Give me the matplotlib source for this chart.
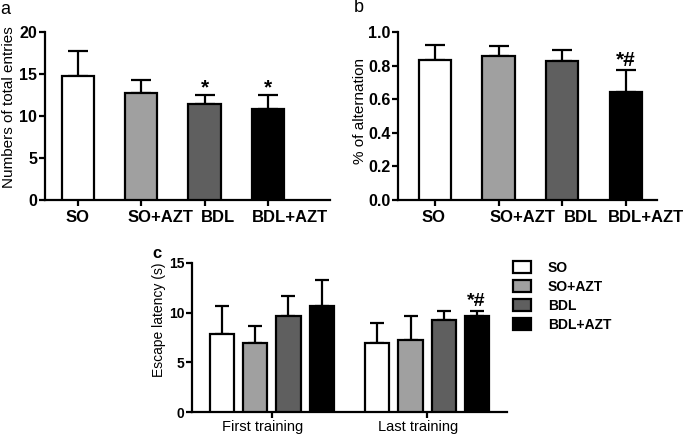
import matplotlib
matplotlib.use("Agg")
import matplotlib.pyplot as plt
import matplotlib.transforms as mtrans
import numpy as np

plt.rcParams['font.family'] = ['Liberation Sans', 'DejaVu Sans']

groups = ["SO", "SO+AZT", "BDL", "BDL+AZT"]
colors = ["#ffffff", "#a0a0a0", "#5f5f5f", "#000000"]

entries_mean = [14.8, 12.7, 11.4, 10.8]
entries_err = [2.9, 1.6, 1.1, 1.7]
entries_marks = ["", "", "*", "*"]

alt_mean = [0.835, 0.855, 0.83, 0.645]
alt_err = [0.09, 0.06, 0.06, 0.13]
alt_marks = ["", "", "", "*#"]

sessions = ["First training", "Last training"]
lat_first = [7.85, 6.95, 9.67, 10.7]
lat_first_err = [2.85, 1.75, 2.0, 2.6]
lat_last = [6.95, 7.25, 9.26, 9.7]
lat_last_err = [2.0, 2.45, 0.9, 0.45]
lat_last_marks = ["", "", "", "*#"]

W, H = 685, 434
fig = plt.figure(figsize=(W / 100, H / 100), dpi=100)


def px_axes(l, r, top, bottom):
    return fig.add_axes([l / W, 1 - bottom / H, (r - l) / W, (bottom - top) / H])


def shift(lab, dx_px):
    lab.set_transform(lab.get_transform() +
                      mtrans.ScaledTranslation(dx_px / 100, 0, fig.dpi_scale_trans))


def style(ax, fs_tick):
    for s in ["top", "right"]:
        ax.spines[s].set_visible(False)
    for s in ["left", "bottom"]:
        ax.spines[s].set_linewidth(1.6)
    ax.tick_params(axis="both", width=1.6, length=4, direction="out",
                   labelsize=fs_tick)
    ax.tick_params(axis="y", pad=1.5)
    for lab in ax.get_yticklabels():
        lab.set_fontweight("bold")


def bar_panel(ax, means, errs, marks, ylim, yticks, fmt, offsets_px, fs_x, fs_y,
              ylabel, mark_y, ylab_px, ylab_y, left_px, width_px):
    x = np.arange(len(groups))
    ax.bar(x, means, width=0.51, color=colors, edgecolor="black",
           linewidth=1.6, zorder=3)
    ax.errorbar(x, means, yerr=[np.zeros(len(means)), errs], fmt="none",
                ecolor="black", elinewidth=1.6, capsize=7.5, capthick=1.6,
                zorder=2)
    ax.set_ylim(*ylim)
    ax.set_yticks(yticks)
    ax.set_yticklabels([fmt.format(v) for v in yticks])
    ax.set_xticks(x)
    ax.set_xticklabels(groups)
    ax.set_ylabel(ylabel, fontsize=11)
    ax.yaxis.set_label_coords((ylab_px - left_px) / width_px, ylab_y)
    style(ax, fs_y)
    ax.tick_params(axis="x", pad=3, labelsize=fs_x)
    for lab, off in zip(ax.get_xticklabels(), offsets_px):
        lab.set_fontweight("bold")
        shift(lab, off)
    for xi, m in zip(x, marks):
        if m:
            ax.text(xi, mark_y, m, ha="center", va="center", fontsize=15,
                    fontweight="bold")


# Panel a
axa = px_axes(45, 330, 32, 200)
axa.set_xlim(-0.52, 3.98)
bar_panel(axa, entries_mean, entries_err, entries_marks, (0, 20),
          [0, 5, 10, 15, 20], "{:g}", [0, 19, 13, 22], 12, 11.5,
          "Numbers of total entries", 13.3, 16, 0.55, 45, 285)

# Panel b
axb = px_axes(398, 657, 32, 200)
axb.set_xlim(-0.58, 3.49)
bar_panel(axb, alt_mean, alt_err, alt_marks, (0, 1.0),
          [0.0, 0.2, 0.4, 0.6, 0.8, 1.0], "{:.1f}", [-1, 24, 19, 20], 12, 11.5,
          "% of alternation", 0.83, 367, 0.53, 398, 259)

# Panel c
axc = px_axes(192, 507, 263, 412)
gx = np.arange(len(sessions))
step = 0.213
bw = 0.155
for i in range(len(groups)):
    xs = gx + (i - 1.5) * step
    vals = [lat_first[i], lat_last[i]]
    errs = [lat_first_err[i], lat_last_err[i]]
    axc.bar(xs, vals, width=bw, color=colors[i], edgecolor="black",
            linewidth=1.6, zorder=3, label=groups[i])
    axc.errorbar(xs, vals, yerr=[[0, 0], errs], fmt="none", ecolor="black",
                 elinewidth=1.6, capsize=5, capthick=1.6, zorder=2)
    if lat_last_marks[i]:
        axc.text(xs[1], 11.1, lat_last_marks[i], ha="center", va="center",
                 fontsize=14, fontweight="bold")
axc.set_xlim(-0.516, 1.516)
axc.set_ylim(0, 15)
axc.set_yticks([0, 5, 10, 15])
axc.set_xticks(gx)
axc.set_xticklabels(sessions)
axc.set_ylabel("Escape latency (s)", fontsize=10)
axc.yaxis.set_label_coords((166 - 192) / 315, 0.62)
style(axc, 10)
axc.tick_params(axis="x", labelsize=10.5, pad=2)
for lab in axc.get_xticklabels():
    shift(lab, -9)

fig.legend(loc="upper left", bbox_to_anchor=(513 / W, 1 - 261 / H),
           bbox_transform=fig.transFigure, frameon=False, borderaxespad=0,
           borderpad=0, handlelength=1.3, handleheight=0.95,
           handletextpad=1.2, labelspacing=0.36,
           prop={"size": 10, "weight": "bold"})

fig.text(5 / W, 1 - 9 / H, "a", fontsize=13, ha="center", va="center")
fig.text(359 / W, 1 - 8 / H, "b", fontsize=13, ha="center", va="center")
fig.text(157 / W, 1 - 253 / H, "c", fontsize=12, fontweight="bold",
         ha="center", va="center")

fig.savefig("out.png", dpi=100)
